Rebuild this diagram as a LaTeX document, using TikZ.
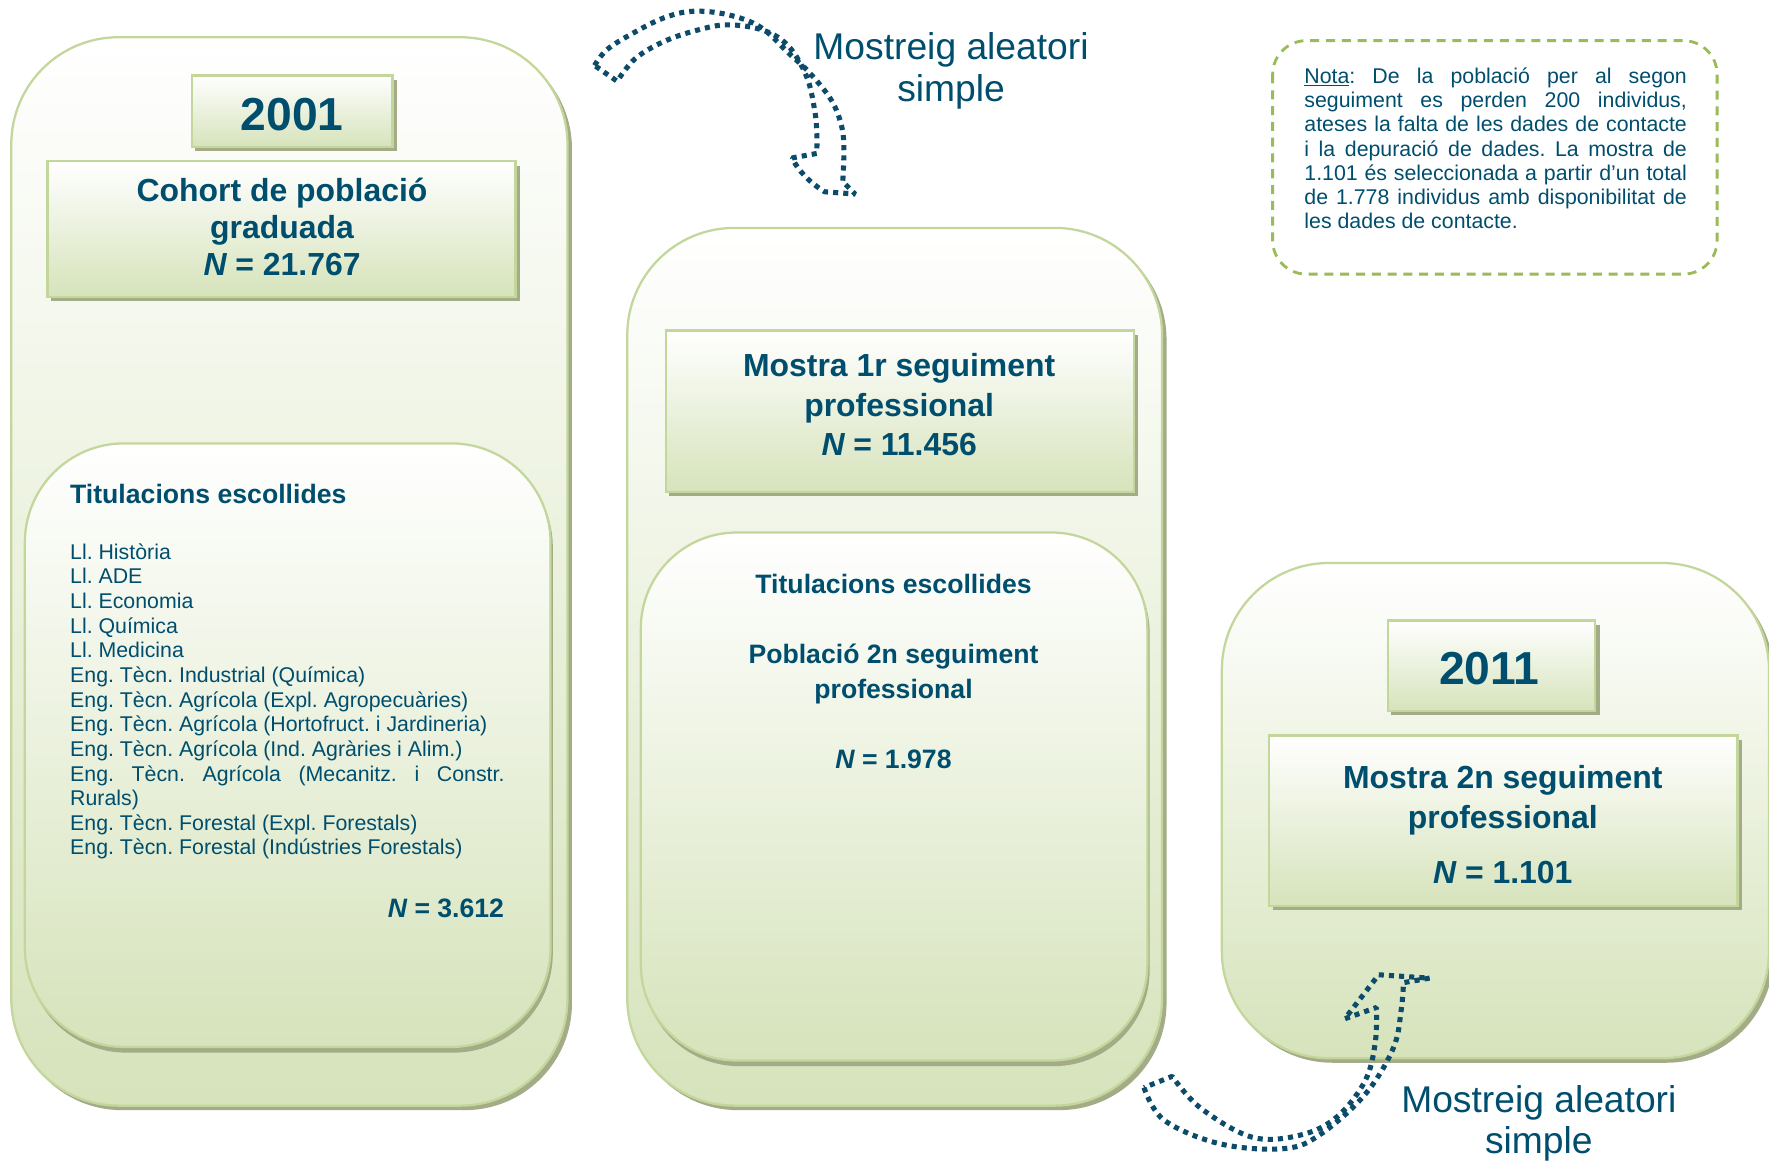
\documentclass[tikz,border=0pt]{standalone}
\usepackage{fontspec}
\setmainfont{Liberation Sans}
\frenchspacing
\definecolor{txtblue}{RGB}{0,78,110}
\definecolor{dotblue}{RGB}{12,76,106}
\definecolor{linegreen}{RGB}{195,214,155}
\definecolor{fillgreen}{RGB}{214,227,187}
\definecolor{shadowgreen}{RGB}{163,172,135}
\definecolor{dashgreen}{RGB}{155,187,89}
\tikzset{greenbox/.style={draw=linegreen, line width=2pt, top color=white, bottom color=fillgreen}}
\tikzset{greenshade/.style={fill=shadowgreen}}
\tikzset{dotted outline/.style={draw=dotblue, line width=4.5pt, dash pattern=on 4.5pt off 4.5pt, line join=bevel}}
\tikzset{yeartext/.style={anchor=base, text=txtblue, font=\bfseries\fontsize{41}{45}\selectfont, inner sep=0pt}}
\tikzset{headtext/.style={anchor=base, text=txtblue, font=\bfseries\fontsize{28.3}{33}\selectfont, inner sep=0pt}}
\tikzset{subtext/.style={anchor=base, text=txtblue, font=\bfseries\fontsize{23.6}{27}\selectfont, inner sep=0pt}}
\tikzset{listtext/.style={anchor=base west, text=txtblue, font=\fontsize{18.9}{21.8}\selectfont, inner sep=0pt}}
\tikzset{mostreigtext/.style={anchor=base, text=txtblue, font=\fontsize{33}{37}\selectfont, inner sep=0pt}}

\begin{document}
\begin{tikzpicture}[x=1pt,y=-1pt]
  \useasboundingbox[fill=white] (0,0) rectangle (1568,1030);

  % 2001
  \fill[greenshade, rounded corners=95pt] (13,37) rectangle (507,984);
  \draw[greenbox, rounded corners=95pt] (10,33) rectangle (503,980);
  \fill[greenshade] (173,71) rectangle (352,134);
  \draw[greenbox] (170,67) rectangle (348,130);
  \fill[greenshade] (45,147) rectangle (461,267);
  \draw[greenbox] (42,143) rectangle (457,263);
  \fill[greenshade, rounded corners=88pt] (24,397) rectangle (490,933);
  \draw[greenbox, rounded corners=88pt] (22,393) rectangle (488,928);

  \node[yeartext] (y2001) at (259,116) {2001};
  \node[headtext] (cohort1) at (250,179) {Cohort de població};
  \node[headtext] (cohort2) at (250,211.5) {graduada};
  \node[headtext] (cohort3) at (250,244) {{\itshape N} = 21.767};
  \node[subtext, anchor=base west] (tit) at (62,446.5) {Titulacions escollides};
  \foreach \titol [count=\i from 0] in {Ll. Història, Ll. ADE, Ll. Economia, Ll. Química, Ll. Medicina,
      Eng. Tècn. Industrial (Química), Eng. Tècn. Agrícola (Expl. Agropecuàries),
      Eng. Tècn. Agrícola (Hortofruct. i Jardineria), Eng. Tècn. Agrícola (Ind. Agràries i Alim.),
      {\makebox[385pt][s]{Eng. Tècn. Agrícola (Mecanitz. i Constr.}}, Rurals),
      Eng. Tècn. Forestal (Expl. Forestals), Eng. Tècn. Forestal (Indústries Forestals)}
    \node[listtext] (tit\i) at (62,{495.8+21.83*\i}) {\titol};
  \node[subtext, anchor=base east] (n3612) at (447,813) {{\itshape N} = 3.612};

  % 1r seguiment
  \fill[greenshade, rounded corners=95pt] (559,206) rectangle (1034,984);
  \draw[greenbox, rounded corners=95pt] (556,202) rectangle (1030,980);
  \fill[greenshade] (593,297) rectangle (1009,440);
  \draw[greenbox] (590,293) rectangle (1005,436);
  \fill[greenshade, rounded corners=85pt] (570,476) rectangle (1019,945);
  \draw[greenbox, rounded corners=85pt] (568,472) rectangle (1017,940);

  \node[headtext] (mostra1a) at (797,334) {Mostra 1r seguiment};
  \node[headtext] (mostra1b) at (797,369) {professional};
  \node[headtext] (mostra1c) at (797,404) {{\itshape N} = 11.456};
  \node[subtext] (tit2) at (792,526.5) {Titulacions escollides};
  \node[subtext] (pob1) at (792,588.5) {Població 2n seguiment};
  \node[subtext] (pob2) at (792,619.5) {professional};
  \node[subtext] (n1978) at (792,681.5) {{\itshape N} = 1.978};

  % 2011
  \fill[greenshade, rounded corners=95pt] (1086,503) rectangle (1572,942);
  \draw[greenbox, rounded corners=95pt] (1083,499) rectangle (1568,938);
  \fill[greenshade] (1233,554) rectangle (1418,634);
  \draw[greenbox] (1230,550) rectangle (1414,630);
  \fill[greenshade] (1128,656) rectangle (1544,807);
  \draw[greenbox] (1125,652) rectangle (1540,803);

  \node[yeartext] (y2011) at (1320,607) {2011};
  \node[headtext] (mostra2a) at (1332,699) {Mostra 2n seguiment};
  \node[headtext] (mostra2b) at (1332,734) {professional};
  \node[headtext] (mostra2c) at (1332,783) {{\itshape N} = 1.101};

  % nota
  \draw[dashgreen, line width=2.5pt, dash pattern=on 8pt off 6pt, rounded corners=30pt] (1128,36) rectangle (1522,243);
  \foreach \linia [count=\i from 0] in {{\makebox[339pt][s]{\underline{Nota}: De la població per al segon}},
      {\makebox[339pt][s]{seguiment es perden 200 individus,}},
      {\makebox[339pt][s]{ateses la falta de les dades de contacte}},
      {\makebox[339pt][s]{i la depuració de dades. La mostra de}},
      {\makebox[339pt][s]{1.101 és seleccionada a partir d’un total}},
      {\makebox[339pt][s]{de 1.778 individus amb disponibilitat de}},
      les dades de contacte.}
    \node[listtext, font=\fontsize{18.9}{21.5}\selectfont] (nota\i) at (1156,{73.8+21.5*\i}) {\linia};

  % mostreig
  \draw[dotted outline] plot[smooth, tension=0.6] coordinates {(527,58) (538,44) (560,30) (588,16) (614,10) (645,13) (674,24) (699,47) (718,65) (737,89) (746,112) (748,133) (747,161)}
    -- (758,172) -- (731,170) .. controls (718,162) and (708,152) .. (702,140) -- (724,136)
    -- plot[smooth, tension=0.6] coordinates {(724,136) (724,118) (722,97) (715,68) (699,41) (677,27) (645,22) (617,27) (588,37) (563,52) (547,72)} -- cycle;
  \node[mostreigtext] (mostreig1a) at (843,52.8) {Mostreig aleatori};
  \node[mostreigtext] (mostreig1b) at (843,89.8) {simple};

  \draw[dotted outline] plot[smooth, tension=0.6] coordinates {(1014,964) (1032,993) (1082,1014) (1139,1018) (1171,1005) (1210,970) (1235,929) (1242,895) (1244,871)}
    -- (1267,867) -- (1222,864) -- (1192,903) -- (1220,893)
    -- plot[smooth, tension=0.6] coordinates {(1220,893) (1219,924) (1210,958) (1185,990) (1153,1006) (1110,1008) (1064,982) (1039,954)} -- cycle;
  \node[mostreigtext] (mostreig2a) at (1364,985.8) {Mostreig aleatori};
  \node[mostreigtext] (mostreig2b) at (1364,1022.8) {simple};
\end{tikzpicture}
\end{document}
